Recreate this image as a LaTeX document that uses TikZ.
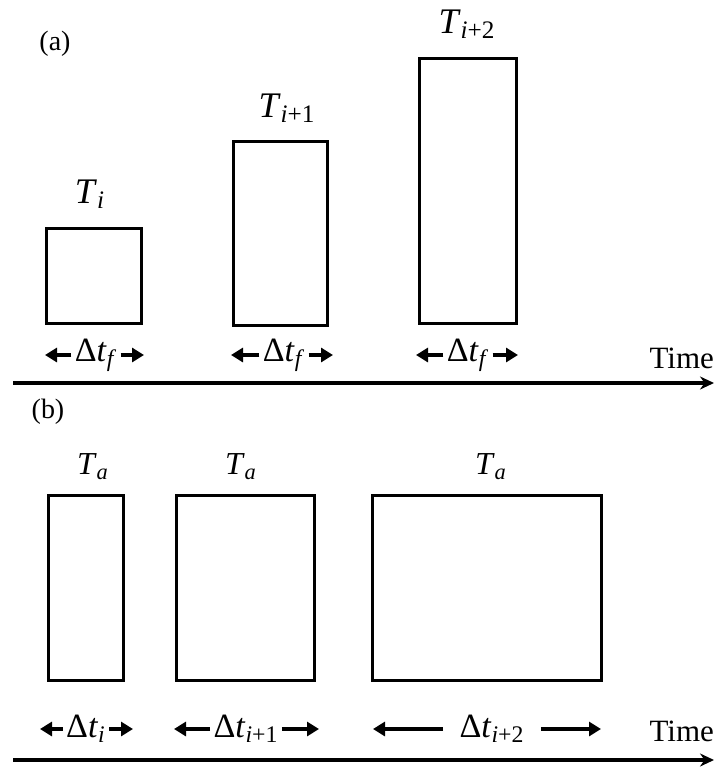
\documentclass[tikz,border=0pt]{standalone}
\usepackage{fontspec}
\setmainfont{Liberation Serif}
\usepackage{tikz}
\usetikzlibrary{arrows.meta, positioning}
\tikzset{
    bar/.style={rectangle, draw=black, line width=1.6pt, inner sep=0pt},
    tlabel/.style={anchor=base, font=\fontsize{18}{21}\selectfont},
    alabel/.style={anchor=base, font=\fontsize{16}{19}\selectfont},
    dtlabel/.style={inner ysep=1pt, inner xsep=1.5pt, font=\fontsize{17}{20}\selectfont},
    dtarrow/.style={-{Triangle[length=6pt,width=7pt]}, line width=1.6pt},
    timeaxis/.style={-{Stealth[length=7pt,width=6.5pt]}, line width=1.6pt},
    partlabel/.style={anchor=base, font=\fontsize{14}{17}\selectfont},
    timelabel/.style={anchor=base east, font=\fontsize{15.5}{18}\selectfont}
}
\newcommand{\idx}[2]{\textit{#1}\textsubscript{#2}}

\begin{document}
\begin{tikzpicture}[x=0.5pt, y=-0.5pt]
    \useasboundingbox (0,0) rectangle (724,767);

    % (a) fixed frame length
    \node [partlabel] (pa) at (55,50) {(a)};
    \node [bar, minimum width=47.5pt, minimum height=47.5pt] (fi) at (94,276) {};
    \node [bar, minimum width=47pt, minimum height=92pt] (fi1) at (280.5,233.5) {};
    \node [bar, minimum width=48.5pt, minimum height=132.5pt] (fi2) at (468,191) {};
    \node [tlabel] (lfi) at (90,203) {\idx{T}{\textit{i}}};
    \node [tlabel] (lfi1) at (287,117) {\idx{T}{\textit{i}+1}};
    \node [tlabel] (lfi2) at (467,33) {\idx{T}{\textit{i}+2}};

    \node [dtlabel] (dfi) at (96,355) {Δ\idx{t}{\textit{f}}};
    \node [dtlabel] (dfi1) at (284,355) {Δ\idx{t}{\textit{f}}};
    \node [dtlabel] (dfi2) at (468,355) {Δ\idx{t}{\textit{f}}};
    \coordinate (dfi-l) at (45,355);
    \coordinate (dfi-r) at (144,355);
    \coordinate (dfi1-l) at (231,355);
    \coordinate (dfi1-r) at (333,355);
    \coordinate (dfi2-l) at (416,355);
    \coordinate (dfi2-r) at (518,355);
    \draw [dtarrow] (dfi.west) -- (dfi-l);
    \draw [dtarrow] (dfi.east) -- (dfi-r);
    \draw [dtarrow] (dfi1.west) -- (dfi1-l);
    \draw [dtarrow] (dfi1.east) -- (dfi1-r);
    \draw [dtarrow] (dfi2.west) -- (dfi2-l);
    \draw [dtarrow] (dfi2.east) -- (dfi2-r);

    \node [timelabel] (ta) at (721,368) {Time};
    \coordinate (axa-s) at (13,383);
    \coordinate (axa-e) at (714,383);
    \draw [timeaxis] (axa-s) -- (axa-e);

    % (b) fixed acquisition temperature
    \node [partlabel] (pb) at (48,418) {(b)};
    \node [bar, minimum width=37.5pt, minimum height=92.5pt] (ai) at (86,588) {};
    \node [bar, minimum width=69pt, minimum height=92.5pt] (ai1) at (245.5,588) {};
    \node [bar, minimum width=114.5pt, minimum height=92.5pt] (ai2) at (487,588) {};
    \node [alabel] (lai) at (93,474) {\idx{T}{\textit{a}}};
    \node [alabel] (lai1) at (241,474) {\idx{T}{\textit{a}}};
    \node [alabel] (lai2) at (491,474) {\idx{T}{\textit{a}}};

    \node [dtlabel] (dai) at (86,729) {Δ\idx{t}{\textit{i}}};
    \node [dtlabel] (dai1) at (246,729) {Δ\idx{t}{\textit{i}+1}};
    \node [dtlabel, inner xsep=8pt] (dai2) at (492,729) {Δ\idx{t}{\textit{i}+2}};
    \coordinate (dai-l) at (40,729);
    \coordinate (dai-r) at (133,729);
    \coordinate (dai1-l) at (174,729);
    \coordinate (dai1-r) at (319,729);
    \coordinate (dai2-l) at (373,729);
    \coordinate (dai2-r) at (601,729);
    \draw [dtarrow] (dai.west) -- (dai-l);
    \draw [dtarrow] (dai.east) -- (dai-r);
    \draw [dtarrow] (dai1.west) -- (dai1-l);
    \draw [dtarrow] (dai1.east) -- (dai1-r);
    \draw [dtarrow] (dai2.west) -- (dai2-l);
    \draw [dtarrow] (dai2.east) -- (dai2-r);

    \node [timelabel] (tb) at (721,741) {Time};
    \coordinate (axb-s) at (13,760);
    \coordinate (axb-e) at (714,760);
    \draw [timeaxis] (axb-s) -- (axb-e);
\end{tikzpicture}
\end{document}
